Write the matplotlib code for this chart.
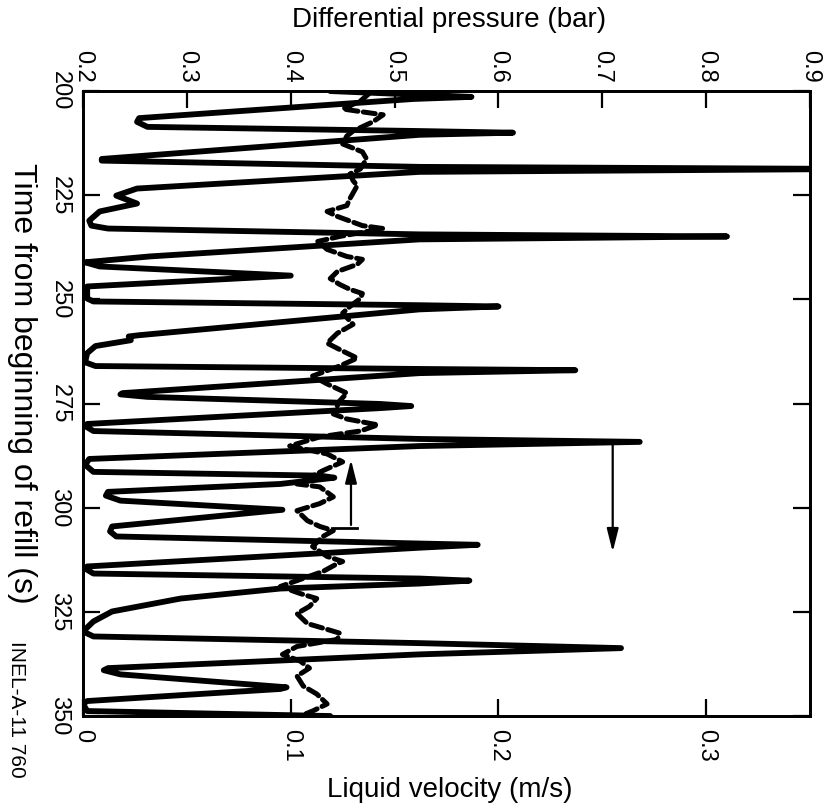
import matplotlib
matplotlib.use("Agg")
import matplotlib.pyplot as plt

plt.rcParams['font.family'] = ['Liberation Sans', 'DejaVu Sans']

# liquid velocity (m/s), solid trace
vel_time = [200.0, 201.4, 201.9, 206.5, 207.4, 208.6, 209.6, 210.0, 210.5, 216.3,
            216.7, 218.2, 218.7, 219.4, 223.4, 225.1, 227.0, 228.9, 231.1, 232.3,
            233.0, 234.4, 234.9, 235.6, 239.7, 241.1, 242.1, 244.3, 246.9, 249.8,
            250.5, 251.4, 251.7, 252.4, 258.6, 258.9, 259.8, 261.2, 262.9, 265.1,
            266.0, 266.7, 267.0, 267.7, 272.5, 272.8, 273.4, 275.1, 275.6, 276.1,
            279.9, 280.4, 281.6, 283.5, 284.2, 285.2, 288.3, 289.7, 291.4, 292.3,
            292.8, 294.3, 296.2, 297.1, 298.3, 300.5, 304.5, 305.7, 306.9, 308.6,
            308.9, 309.6, 314.1, 314.6, 315.8, 317.0, 317.5, 318.2, 319.4, 321.8,
            324.9, 327.3, 329.7, 330.9, 332.5, 333.7, 335.2, 338.5, 339.0, 340.0,
            343.1, 343.5, 346.4, 347.1, 348.8, 350.0]
vel = [0.119, 0.187, 0.159, 0.027, 0.026, 0.031, 0.162, 0.207, 0.162, 0.009,
       0.009, 0.162, 0.374, 0.162, 0.026, 0.016, 0.026, 0.008, 0.003, 0.004,
       0.012, 0.162, 0.310, 0.162, 0.032, 0.001, 0.008, 0.100, 0.002, 0.002,
       0.005, 0.162, 0.200, 0.162, 0.027, 0.022, 0.023, 0.006, 0.002, 0.001,
       0.006, 0.162, 0.237, 0.162, 0.019, 0.018, 0.031, 0.143, 0.158, 0.143,
       0.002, 0.001, 0.005, 0.162, 0.268, 0.162, 0.003, 0.001, 0.005, 0.114,
       0.121, 0.095, 0.012, 0.011, 0.018, 0.096, 0.014, 0.013, 0.016, 0.162,
       0.190, 0.162, 0.002, 0.001, 0.005, 0.162, 0.186, 0.162, 0.095, 0.047,
       0.014, 0.005, 0.000, 0.005, 0.162, 0.259, 0.162, 0.012, 0.010, 0.018,
       0.098, 0.095, 0.002, 0.000, 0.002, 0.119]

# differential pressure (bar), dashed trace
dp_time = [200.5, 202.4, 204.3, 205.0, 205.7, 207.4, 209.6, 210.8, 212.7, 214.6,
           216.3, 218.7, 219.9, 221.5, 222.7, 225.8, 227.5, 228.9, 230.1, 232.3,
           233.0, 234.9, 236.1, 238.0, 239.7, 240.4, 241.6, 243.3, 245.0, 246.4,
           247.6, 248.6, 249.8, 251.7, 253.3, 256.0, 258.1, 260.5, 262.4, 264.1,
           266.0, 268.4, 270.3, 272.5, 274.4, 277.5, 278.7, 279.9, 280.1, 281.6,
           282.3, 283.0, 285.2, 287.1, 289.0, 291.1, 294.3, 295.0, 297.4, 299.0,
           300.7, 303.1, 304.5, 305.5, 306.9, 309.3, 311.7, 312.9, 313.4, 315.3,
           318.9, 320.6, 321.8, 323.7, 325.4, 327.8, 329.2, 330.1, 331.6, 333.3,
           335.2, 336.8, 338.5, 340.4, 342.8, 344.7, 347.1, 348.8, 350.0]
dp = [0.476, 0.467, 0.450, 0.469, 0.489, 0.479, 0.460, 0.454, 0.450, 0.469,
      0.473, 0.467, 0.457, 0.460, 0.464, 0.457, 0.454, 0.435, 0.445, 0.469,
      0.489, 0.447, 0.426, 0.435, 0.454, 0.469, 0.464, 0.445, 0.438, 0.447,
      0.457, 0.469, 0.467, 0.457, 0.450, 0.460, 0.445, 0.435, 0.450, 0.464,
      0.447, 0.421, 0.435, 0.454, 0.447, 0.441, 0.454, 0.479, 0.484, 0.467,
      0.447, 0.428, 0.399, 0.435, 0.450, 0.431, 0.406, 0.428, 0.441, 0.428,
      0.406, 0.416, 0.428, 0.441, 0.431, 0.421, 0.435, 0.450, 0.445, 0.431,
      0.390, 0.409, 0.425, 0.418, 0.406, 0.416, 0.435, 0.447, 0.445, 0.406,
      0.392, 0.409, 0.418, 0.406, 0.412, 0.425, 0.435, 0.421, 0.409]

time_ticks = [200, 225, 250, 275, 300, 325, 350]
vel_ticks = [0, 0.1, 0.2, 0.3]
vel_labels = ['0', '0.1', '0.2', '0.3']
dp_ticks = [0.2, 0.3, 0.4, 0.5, 0.6, 0.7, 0.8, 0.9]

# arrows linking each trace to its axis: (velocity, start time, end time)
dp_arrow = (0.129, 304.8, 287.8)
vel_arrow = (0.255, 284.2, 311.3)

fig = plt.figure(figsize=(8.32, 8.10), dpi=100)
ax = fig.add_axes([0.0998, 0.1160, 0.8738, 0.7716])
ax2 = ax.twiny()

ax.plot(vel, vel_time, color='black', lw=4.2, solid_joinstyle='round',
        solid_capstyle='round')
ax2.plot(dp, dp_time, color='black', lw=3.6, dashes=(2.4, 1.1),
         dash_capstyle='round')

ax.set_xlim(0, 0.35)
ax2.set_xlim(0.2, 0.9)
ax.set_ylim(350, 200)

ax.set_yticks(time_ticks)
ax.set_yticklabels([str(t) for t in time_ticks], rotation=270, va='center')
ax.set_xticks(vel_ticks)
ax.set_xticklabels(vel_labels, rotation=270, ha='center')
ax2.set_xticks(dp_ticks)
ax2.set_xticklabels([f'{d:.1f}' for d in dp_ticks], rotation=270, ha='center')

for a in (ax, ax2):
    for s in a.spines.values():
        s.set_linewidth(2.0)
ax.tick_params(axis='both', direction='in', length=12, width=1.6,
               labelsize=17, right=True, top=False)
ax.tick_params(axis='y', pad=9)
ax.tick_params(axis='x', pad=9)
ax2.tick_params(axis='x', direction='in', length=12, width=1.6,
                labelsize=17, pad=6)

# arrows
v, t0, t1 = dp_arrow
ax.annotate('', xy=(v, t1), xytext=(v, t0),
            arrowprops=dict(arrowstyle='-|>,head_length=1.4,head_width=0.35',
                            color='black', lw=1.6))
ax.plot([v - 0.009, v + 0.003], [t0, t0], color='black', lw=2)
v, t0, t1 = vel_arrow
ax.annotate('', xy=(v, t1), xytext=(v, t0),
            arrowprops=dict(arrowstyle='-|>,head_length=1.4,head_width=0.35',
                            color='black', lw=1.6))

fig.text(0.54, 0.975, 'Differential pressure (bar)', ha='center', va='center',
         fontsize=20)
fig.text(0.54, 0.025, 'Liquid velocity (m/s)', ha='center', va='center',
         fontsize=20)
fig.text(0.027, 0.527, 'Time from beginning of refill (s)', rotation=270,
         ha='center', va='center', fontsize=23)
fig.text(0.020, 0.124, 'INEL-A-11 760', rotation=270,
         ha='center', va='center', fontsize=15)

fig.savefig('out.png', dpi=100)
